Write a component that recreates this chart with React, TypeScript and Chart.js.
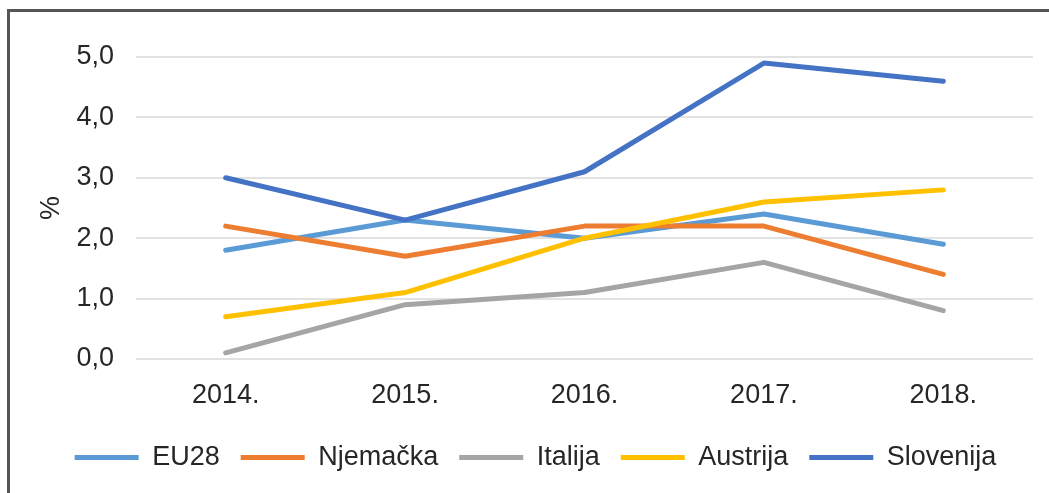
import React, { useEffect, useRef } from "react";
import { Chart, registerables } from "chart.js";

Chart.register(...registerables);

const categories = ["2014.", "2015.", "2016.", "2017.", "2018."];
const seriesNames = ["EU28", "Njemačka", "Italija", "Austrija", "Slovenija"];
const eu28 = [1.8, 2.3, 2.0, 2.4, 1.9];
const njemacka = [2.2, 1.7, 2.2, 2.2, 1.4];
const italija = [0.1, 0.9, 1.1, 1.6, 0.8];
const austrija = [0.7, 1.1, 2.0, 2.6, 2.8];
const slovenija = [3.0, 2.3, 3.1, 4.9, 4.6];
const seriesColors = ["#5B9BD5", "#ED7D31", "#A5A5A5", "#FFC000", "#4472C4"];
const yTicks = [0, 1, 2, 3, 4, 5];

const FONT = '"Liberation Sans", Arial, sans-serif';
const TEXT = "#262626";

export default function App() {
  const ref = useRef<HTMLCanvasElement | null>(null);

  useEffect(() => {
    const canvas = ref.current;
    if (!canvas) return;
    const values = [eu28, njemacka, italija, austrija, slovenija];
    const chart = new Chart(canvas, {
      type: "line",
      data: {
        labels: categories,
        datasets: values.map((v, i) => ({
          label: seriesNames[i],
          data: v,
          borderColor: seriesColors[i],
          backgroundColor: seriesColors[i],
          borderWidth: 5,
          pointRadius: 0,
          pointHoverRadius: 0,
          tension: 0,
          fill: false,
          borderCapStyle: "round" as const,
          borderJoinStyle: "round" as const,
          order: values.length - i,
        })),
      },
      options: {
        responsive: false,
        animation: false,
        devicePixelRatio: 1,
        layout: { padding: { left: 38, right: 16, top: 57, bottom: 12 } },
        plugins: {
          tooltip: { enabled: false },
          title: { display: false },
          legend: {
            position: "bottom",
            align: "center",
            labels: {
              boxWidth: 64,
              boxHeight: 5,
              padding: 21,
              color: TEXT,
              font: { family: FONT, size: 27 },
              sort: (a: any, b: any) => a.datasetIndex - b.datasetIndex,
              generateLabels: (ch: any) =>
                ch.data.datasets.map((d: any, i: number) => ({
                  text: d.label,
                  fillStyle: d.borderColor,
                  strokeStyle: d.borderColor,
                  lineWidth: 0,
                  hidden: false,
                  datasetIndex: i,
                  fontColor: TEXT,
                })),
            },
          },
        },
        scales: {
          x: {
            offset: true,
            grid: { display: false, drawTicks: false },
            border: { display: false },
            ticks: {
              color: TEXT,
              padding: 20,
              maxRotation: 0,
              font: { family: FONT, size: 27 },
            },
            afterFit: (scale: any) => {
              scale.height = 64;
            },
          },
          y: {
            min: 0,
            max: 5,
            afterBuildTicks: (scale: any) => {
              scale.ticks = yTicks.map((v) => ({ value: v }));
            },
            grid: { color: "#e2e2e2", lineWidth: 2, drawTicks: false },
            border: { display: false },
            ticks: {
              color: TEXT,
              padding: 22,
              font: { family: FONT, size: 27 },
              callback: (v: any) => Number(v).toFixed(1).replace(".", ","),
            },
            title: {
              display: true,
              text: "%",
              color: TEXT,
              font: { family: FONT, size: 27 },
              padding: { top: -3, bottom: 0 },
            },
            afterFit: (scale: any) => {
              scale.width = 98;
            },
          },
        },
      },
    });
    return () => chart.destroy();
  }, []);

  return (
    <div
      style={{
        position: "fixed",
        left: 0,
        top: 0,
        width: 1049,
        height: 493,
        background: "#fff",
        overflow: "hidden",
      }}
    >
      <div
        style={{
          position: "absolute",
          left: 7,
          top: 9,
          width: 1100,
          height: 600,
          borderLeft: "3px solid #555",
          borderTop: "3px solid #555",
        }}
      />
      <canvas
        ref={ref}
        width={1049}
        height={493}
        style={{ position: "absolute", left: 0, top: 0 }}
      />
    </div>
  );
}
